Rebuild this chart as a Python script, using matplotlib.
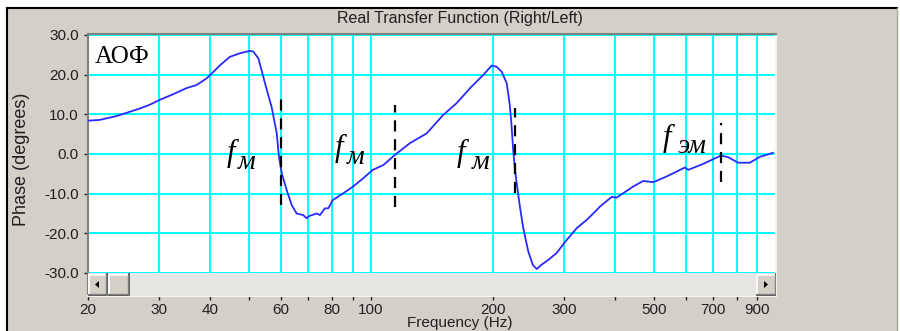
import matplotlib
matplotlib.use('Agg')
import matplotlib.pyplot as plt
from matplotlib.patches import Rectangle, Polygon
from matplotlib.lines import Line2D

# ---------------- data ----------------
freq_hz = [20, 21.4, 23.6, 26.9, 28.4, 30, 32.5, 35.0, 37.1, 39.3, 40.8, 42.4, 44.8,
           47.5, 50.2, 51.2, 52.7, 55.3, 56.8, 58.5, 59.2, 60.2, 61.9, 63.7, 65.5,
           68.0, 69.3, 70.5, 73.4, 74.8, 76.9, 78.4, 80.5, 85.4, 90.3, 95.7, 101,
           107.2, 114.6, 124.6, 137.2, 150.6, 162.6, 175.6, 189.2, 198.5, 204.2,
           210.3, 216.3, 220, 222, 224.2, 226.7, 229, 233, 237.6, 244.5, 251, 256.8,
           263, 274, 287, 304, 322, 341, 361, 367, 393, 404, 444, 470, 498, 536,
           596, 607, 661, 731, 762, 806, 862, 913, 983]
phase_deg = [8.4, 8.6, 9.6, 11.5, 12.4, 13.6, 15.1, 16.6, 17.4, 19.1, 20.7, 22.4, 24.5,
             25.4, 26.0, 25.8, 24.1, 16.1, 11.9, 5.2, -0.5, -4.9, -9.1, -12.9, -15.0,
             -15.4, -16.2, -15.6, -15.0, -15.4, -13.7, -13.7, -11.6, -9.9, -8.2, -6.1, -4.0,
             -2.8, -0.2, 2.7, 5.2, 9.8, 12.8, 16.6, 19.9, 22.3, 22.0,
             20.7, 17.8, 12.5, 8.0, 1.5, -4.0, -7.5, -13.1, -18.7, -24.6, -28.0, -29.0,
             -28.0, -26.7, -25.0, -21.7, -18.7, -16.6, -14.1, -13.3, -10.8, -11.0, -8.2, -6.8, -7.1, -5.7,
             -3.4, -4.0, -2.5, -0.4, -0.8, -2.2, -2.2, -0.7, 0.3]

marker_freq = [60, 114.6, 227, 731]
marker_top = [14.4, 12.3, 11.6, 7.8]
marker_bottom = [-12.8, -13.4, -9.8, -7.1]

label_main = ['f', 'f', 'f', 'f']
label_sub = ['м', 'м', 'м', 'эм']
label_main_pos = [(44.1, -1.8), (81.5, -0.5), (163, -1.8), (526, 2.0)]
label_sub_pos = [(46.9, -3.8), (87.2, -2.5), (177.5, -3.8), (573, 0.25)]

xticks_major = [20, 30, 40, 60, 80, 100, 200, 300, 500, 700, 900]
xticks_minor = [50, 70, 90, 400, 600, 800]
yticks = [30, 20, 10, 0, -10, -20, -30]

title_text = 'Real Transfer Function (Right/Left)'
xlabel_text = 'Frequency (Hz)'
ylabel_text = 'Phase (degrees)'
corner_text = 'АОФ'

# ---------------- layout ----------------
W, H = 900, 331
fig = plt.figure(figsize=(9, 3.31), dpi=100)
fig.patch.set_facecolor('white')


def fx(px):
    return px / W


def fy(py):
    return 1 - py / H


GRAY = '#d4d0c8'
SANS = 'Liberation Sans'
SERIF = 'Liberation Serif'

fig.add_artist(Rectangle((fx(7), 0), fx(897) - fx(7), fy(8), transform=fig.transFigure,
                         facecolor=GRAY, edgecolor='none', zorder=0))
fig.add_artist(Line2D([fx(7), fx(897)], [fy(8), fy(8)], transform=fig.transFigure,
                      color='black', lw=1.5))
fig.add_artist(Line2D([fx(7), fx(7)], [0, fy(8)], transform=fig.transFigure,
                      color='black', lw=1.5))
fig.add_artist(Line2D([fx(897), fx(897)], [0, fy(8)], transform=fig.transFigure,
                      color='#a8a49c', lw=1.0))

ax = fig.add_axes([fx(88), fy(296), fx(776) - fx(88), fy(34) - fy(296)])
ax.set_facecolor('white')
ax.set_xscale('log')
ax.set_xlim(20, 1000)
ax.set_ylim(-35.8, 30.25)

ax.set_xticks(xticks_major)
ax.set_xticklabels([str(v) for v in xticks_major])
ax.set_xticks(xticks_minor, minor=True)
ax.set_xticklabels([], minor=True)
ax.set_yticks(yticks)
ax.set_yticklabels(['%.1f' % v for v in yticks])

ax.grid(True, which='both', color='#00ffff', lw=1.4, zorder=0)
ax.set_axisbelow(True)

ax.tick_params(axis='both', which='both', direction='out', length=3, width=1,
               color='#202020', labelsize=11, labelcolor='#202020')
ax.tick_params(axis='x', which='both', pad=2)
ax.tick_params(axis='y', pad=3.5)
for lab in ax.get_xticklabels() + ax.get_yticklabels():
    lab.set_fontfamily(SANS)

ax.spines['left'].set_color('#808080')
ax.spines['top'].set_color('#808080')
ax.spines['right'].set_color('#f4f4f4')
ax.spines['bottom'].set_color('#f4f4f4')
for s in ax.spines.values():
    s.set_linewidth(1.5)

ax.plot(freq_hz, phase_deg, color='#2a2aff', lw=1.3, zorder=3)

for f, t, b in zip(marker_freq, marker_top, marker_bottom):
    ax.plot([f, f], [b, t], color='black', lw=1.6, linestyle=(0, (5, 3.5)), zorder=4)

for m, s, pm, ps in zip(label_main, label_sub, label_main_pos, label_sub_pos):
    ax.text(pm[0], pm[1], m, fontsize=22, fontfamily=SERIF, style='italic',
            va='baseline', ha='left', zorder=5)
    ax.text(ps[0], ps[1], s, fontsize=20, fontfamily=SERIF, style='italic',
            va='baseline', ha='left', zorder=5)

fig.text(fx(95), fy(63), corner_text, fontsize=18, fontfamily=SERIF,
         va='baseline', ha='left')

# scrollbar
sb = fig.add_axes([fx(88), fy(296), fx(776) - fx(88), fy(273) - fy(296)])
sb.set_xlim(0, 688)
sb.set_ylim(0, 23)
sb.axis('off')
sb.add_patch(Rectangle((0, 0), 688, 23, facecolor='#e8e6e2', edgecolor='none'))


def button(x0, w):
    sb.add_patch(Rectangle((x0, 1), w, 21, facecolor=GRAY, edgecolor='none'))
    sb.plot([x0 + 0.5, x0 + 0.5, x0 + w - 1], [1, 21.5, 21.5], color='white', lw=1.2)
    sb.plot([x0 + 0.5, x0 + w - 0.5, x0 + w - 0.5], [0.7, 0.7, 22], color='#404040', lw=1.2)
    sb.plot([x0 + 1.5, x0 + w - 1.5, x0 + w - 1.5], [1.8, 1.8, 21], color='#808080', lw=1.0)


button(0, 19)
button(20, 21)
button(668, 20)
sb.add_patch(Polygon([[11, 8], [11, 15], [7, 11.5]], closed=True, facecolor='black', edgecolor='none'))
sb.add_patch(Polygon([[676, 8], [676, 15], [680, 11.5]], closed=True, facecolor='black', edgecolor='none'))

# texts
fig.text(fx(460), fy(19), title_text, fontsize=11.5, fontfamily=SANS, color='#202020',
         ha='center', va='center')
fig.text(fx(460), fy(316), xlabel_text, fontsize=11, fontfamily=SANS, color='#202020',
         ha='center', va='top')
fig.text(fx(22), fy(159), ylabel_text, fontsize=13, fontfamily=SANS, color='#202020',
         ha='center', va='center', rotation=90)

fig.savefig('out.png', dpi=100, facecolor=fig.get_facecolor())
